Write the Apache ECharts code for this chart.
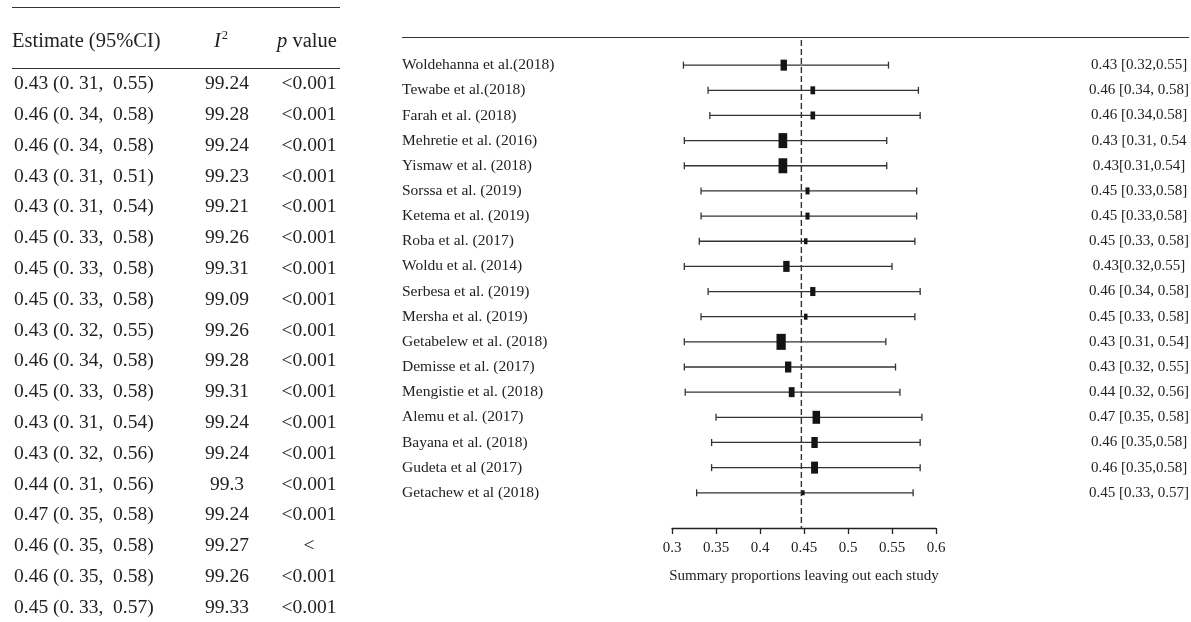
<!DOCTYPE html>
<html>
<head>
<meta charset="utf-8">
<script src="https://cdn.jsdelivr.net/npm/echarts@6/dist/echarts.min.js"></script>
<style>
  html, body { margin: 0; padding: 0; background: #fff; }
  #chart { width: 1191px; height: 622px; }
</style>
</head>
<body>
<div id="chart"></div>
<script>
// forest plot data (leave-one-out)
const studies = [
  'Woldehanna et al.(2018)', 'Tewabe et al.(2018)', 'Farah et al. (2018)', 'Mehretie et al. (2016)',
  'Yismaw et al. (2018)', 'Sorssa et al. (2019)', 'Ketema et al. (2019)', 'Roba et al. (2017)',
  'Woldu et al. (2014)', 'Serbesa et al. (2019)', 'Mersha et al. (2019)', 'Getabelew et al. (2018)',
  'Demisse et al. (2017)', 'Mengistie et al. (2018)', 'Alemu et al. (2017)', 'Bayana et al. (2018)',
  'Gudeta et al (2017)', 'Getachew et al (2018)'
]
const pointEst = [0.427, 0.460, 0.460, 0.426, 0.426, 0.454, 0.454, 0.452, 0.430, 0.460, 0.452, 0.424, 0.432, 0.436, 0.464, 0.462, 0.462, 0.449]
const ciLow = [0.313, 0.341, 0.343, 0.314, 0.314, 0.333, 0.333, 0.331, 0.314, 0.341, 0.333, 0.314, 0.314, 0.315, 0.350, 0.345, 0.345, 0.328]
const ciHigh = [0.546, 0.580, 0.582, 0.544, 0.544, 0.578, 0.578, 0.576, 0.550, 0.582, 0.576, 0.543, 0.554, 0.559, 0.584, 0.582, 0.582, 0.574]
const weights = [11, 8, 8, 15, 15, 7, 7, 6, 11, 9, 6, 16, 11, 10, 13, 11, 12, 5]
const estLabels = [
  '0.43 [0.32,0.55]', '0.46 [0.34, 0.58]', '0.46 [0.34,0.58]', '0.43 [0.31, 0.54', '0.43[0.31,0.54]',
  '0.45 [0.33,0.58]', '0.45 [0.33,0.58]', '0.45 [0.33, 0.58]', '0.43[0.32,0.55]', '0.46 [0.34, 0.58]',
  '0.45 [0.33, 0.58]', '0.43 [0.31, 0.54]', '0.43 [0.32, 0.55]', '0.44 [0.32, 0.56]', '0.47 [0.35, 0.58]',
  '0.46 [0.35,0.58]', '0.46 [0.35,0.58]', '0.45 [0.33, 0.57]'
]
const pooled = 0.447
const xTicks = [0.3, 0.35, 0.4, 0.45, 0.5, 0.55, 0.6]

// table on the left
const tblEstimate = [
  '0.43 (0. 31,  0.55)', '0.46 (0. 34,  0.58)', '0.46 (0. 34,  0.58)', '0.43 (0. 31,  0.51)',
  '0.43 (0. 31,  0.54)', '0.45 (0. 33,  0.58)', '0.45 (0. 33,  0.58)', '0.45 (0. 33,  0.58)',
  '0.43 (0. 32,  0.55)', '0.46 (0. 34,  0.58)', '0.45 (0. 33,  0.58)', '0.43 (0. 31,  0.54)',
  '0.43 (0. 32,  0.56)', '0.44 (0. 31,  0.56)', '0.47 (0. 35,  0.58)', '0.46 (0. 35,  0.58)',
  '0.46 (0. 35,  0.58)', '0.45 (0. 33,  0.57)'
]
const tblI2 = ['99.24', '99.28', '99.24', '99.23', '99.21', '99.26', '99.31', '99.09', '99.26',
  '99.28', '99.31', '99.24', '99.24', '99.3', '99.24', '99.27', '99.26', '99.33']
const tblP = ['<0.001', '<0.001', '<0.001', '<0.001', '<0.001', '<0.001', '<0.001', '<0.001', '<0.001',
  '<0.001', '<0.001', '<0.001', '<0.001', '<0.001', '<0.001', '<', '<0.001', '<0.001']

const SERIF = '"Liberation Serif", "Times New Roman", serif'
const ink = '#222'

const chart = echarts.init(document.getElementById('chart'))

const forestData = studies.map((s, i) => [i + 1, ciLow[i], ciHigh[i], pointEst[i], weights[i]])
const labelData = studies.map((s, i) => [i + 1])
const tableData = tblEstimate.map((s, i) => [i])

const option = {
  animation: false,
  backgroundColor: '#fff',
  grid: [
    { left: 672, width: 264, top: 40, bottom: 94 },
    { left: 0, width: 345, top: 84, height: 523.6 }
  ],
  xAxis: [
    {
      gridIndex: 0,
      type: 'value',
      min: xTicks[0],
      max: xTicks[xTicks.length - 1],
      interval: xTicks[1] - xTicks[0],
      axisLine: { show: true, onZero: false, lineStyle: { color: '#222', width: 1.3 } },
      axisTick: { show: true, length: 6, lineStyle: { color: '#222', width: 1.3 } },
      axisLabel: {
        margin: 13,
        color: ink,
        fontFamily: SERIF,
        fontSize: 15,
        formatter: v => String(+v.toFixed(2))
      },
      splitLine: { show: false },
      name: 'Summary proportions leaving out each study',
      nameLocation: 'middle',
      nameGap: 41,
      nameTextStyle: { color: ink, fontFamily: SERIF, fontSize: 15 }
    },
    { gridIndex: 1, type: 'value', min: 0, max: 1, show: false }
  ],
  yAxis: [
    { gridIndex: 0, type: 'value', min: 0, max: 19.4, inverse: true, show: false },
    { gridIndex: 1, type: 'value', min: 0, max: 17, inverse: true, show: false }
  ],
  graphic: [
    // rules of the table and the plot
    { type: 'line', shape: { x1: 12, y1: 7.5, x2: 340, y2: 7.5 }, style: { stroke: '#333', lineWidth: 1 } },
    { type: 'line', shape: { x1: 12, y1: 68.5, x2: 340, y2: 68.5 }, style: { stroke: '#333', lineWidth: 1 } },
    { type: 'line', shape: { x1: 402, y1: 37.5, x2: 1189, y2: 37.5 }, style: { stroke: '#333', lineWidth: 1.2 } },
    {
      type: 'text', left: 12, top: 31,
      style: { text: 'Estimate (95%CI)', font: '20.5px ' + SERIF, fill: ink }
    },
    {
      type: 'text', left: 214, top: 29,
      style: {
        text: '{i|I}{s|2}',
        rich: {
          i: { font: 'italic 20.5px ' + SERIF, fill: ink, verticalAlign: 'bottom' },
          s: { font: '12.5px ' + SERIF, fill: ink, verticalAlign: 'top', padding: [0, 0, 10, 1] }
        }
      }
    },
    {
      type: 'text', left: 277, top: 31,
      style: {
        text: '{i|p} value',
        font: '20.5px ' + SERIF,
        fill: ink,
        rich: { i: { font: 'italic 20.5px ' + SERIF, fill: ink } }
      }
    }
  ],
  series: [
    {
      // pooled estimate
      type: 'line',
      xAxisIndex: 0,
      yAxisIndex: 0,
      silent: true,
      showSymbol: false,
      symbol: 'none',
      data: [[pooled, 0], [pooled, 19.4]],
      lineStyle: { color: '#333', width: 1.4, type: [6, 3] },
      z: 1
    },
    {
      type: 'custom',
      xAxisIndex: 0,
      yAxisIndex: 0,
      data: forestData,
      z: 2,
      renderItem: (params, api) => {
        const y = api.value(0)
        const pL = api.coord([api.value(1), y])
        const pH = api.coord([api.value(2), y])
        const pE = api.coord([api.value(3), y])
        const h = api.value(4)
        const w = Math.max(3, h * 0.58)
        const cap = 3.5
        const ls = { stroke: '#333', lineWidth: 1.3 }
        return {
          type: 'group',
          children: [
            { type: 'line', shape: { x1: pL[0], y1: pL[1], x2: pH[0], y2: pH[1] }, style: ls },
            { type: 'line', shape: { x1: pL[0], y1: pL[1] - cap, x2: pL[0], y2: pL[1] + cap }, style: ls },
            { type: 'line', shape: { x1: pH[0], y1: pH[1] - cap, x2: pH[0], y2: pH[1] + cap }, style: ls },
            { type: 'rect', shape: { x: pE[0] - w / 2, y: pE[1] - h / 2, width: w, height: h }, style: { fill: '#141414' } }
          ]
        }
      }
    },
    {
      // study names and per-row estimates
      type: 'custom',
      xAxisIndex: 0,
      yAxisIndex: 0,
      data: labelData,
      silent: true,
      renderItem: (params, api) => {
        const i = params.dataIndex
        const p = api.coord([xTicks[0], api.value(0)])
        return {
          type: 'group',
          children: [
            {
              type: 'text', x: 402, y: p[1],
              style: { text: studies[i], font: '15.5px ' + SERIF, fill: ink, textAlign: 'left', textVerticalAlign: 'middle', verticalAlign: 'middle' }
            },
            {
              type: 'text', x: 1139, y: p[1],
              style: { text: estLabels[i], font: '15px ' + SERIF, fill: ink, textAlign: 'center', textVerticalAlign: 'middle', verticalAlign: 'middle' }
            }
          ]
        }
      }
    },
    {
      // left table body
      type: 'custom',
      xAxisIndex: 1,
      yAxisIndex: 1,
      data: tableData,
      silent: true,
      renderItem: (params, api) => {
        const i = params.dataIndex
        const p = api.coord([0, api.value(0)])
        const font = '19.5px ' + SERIF
        const base = { font: font, fill: ink, textVerticalAlign: 'middle', verticalAlign: 'middle' }
        return {
          type: 'group',
          children: [
            { type: 'text', x: 14, y: p[1], style: Object.assign({ text: tblEstimate[i], textAlign: 'left' }, base) },
            { type: 'text', x: 227, y: p[1], style: Object.assign({ text: tblI2[i], textAlign: 'center' }, base) },
            { type: 'text', x: 309, y: p[1], style: Object.assign({ text: tblP[i], textAlign: 'center' }, base) }
          ]
        }
      }
    }
  ]
}

chart.setOption(option)
window.addEventListener('resize', () => {
  chart.resize()
})
</script>
</body>
</html>
